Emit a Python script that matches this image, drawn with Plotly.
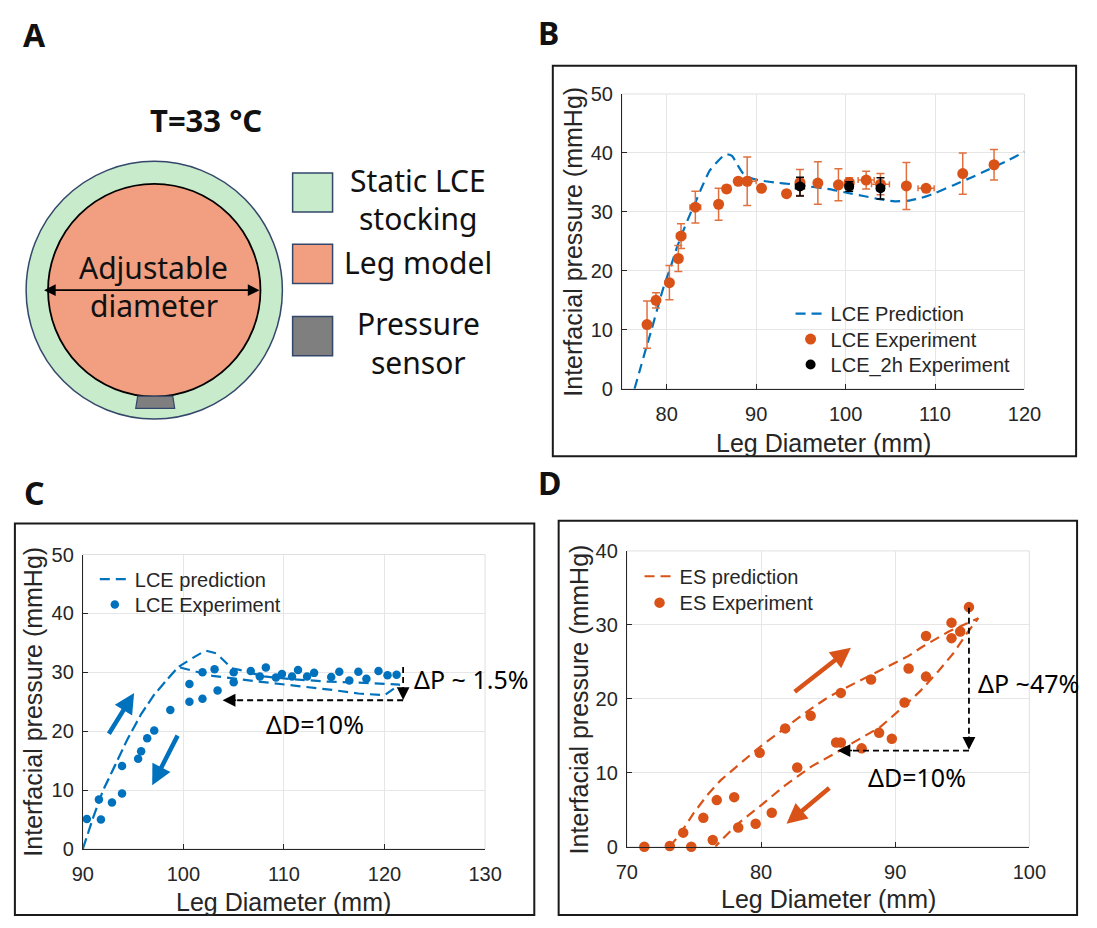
import plotly.graph_objects as go

W, H = 1097, 928
BLUE = "#0072BD"
ORANGE = "#D95319"
AXFONT = "Liberation Sans"
TXFONT = "Noto Sans"

# ---------------- Panel B: LCE stocking, static test ----------------
b_pred_d = [76.4, 77.0, 77.6, 78.3, 78.9, 79.7, 80.4, 81.1, 81.8, 82.5, 83.2, 83.9,
            84.8, 85.9, 86.6, 87.3, 87.9, 88.5, 89.2, 90.2, 92.0, 94.0, 96.0, 98.0,
            100.0, 102.0, 104.0, 105.5, 107.0, 108.5, 110.0, 112.0, 114.0, 116.0, 118.0, 120.0]
b_pred_p = [0.0, 3.2, 6.4, 10.0, 13.3, 17.5, 20.5, 23.8, 26.6, 29.2, 31.6, 34.1,
            37.0, 38.9, 39.8, 39.5, 38.0, 36.6, 35.9, 35.4, 35.0, 34.7, 34.3, 33.9,
            33.3, 32.7, 32.1, 31.8, 31.9, 32.4, 33.2, 34.5, 35.8, 37.2, 38.6, 40.2]

b_exp_d = [77.8, 78.8, 80.3, 81.3, 81.6, 83.2, 85.8, 86.7, 88.0, 89.0, 90.6,
           93.4, 94.9, 96.9, 99.2, 100.4, 102.3, 103.9, 106.8, 109.0, 113.1, 116.6]
b_exp_p = [10.9, 15.0, 18.0, 22.1, 25.9, 30.8, 31.3, 33.9, 35.2, 35.2, 34.0,
           33.1, 35.0, 34.9, 34.6, 35.0, 35.4, 34.7, 34.4, 34.0, 36.5, 38.0]
b_exp_ep = [4.0, 1.3, 2.9, 2.2, 2.1, 2.7, 2.7, 0.6, 0.5, 4.1, 0.4,
            0.3, 2.2, 3.6, 2.7, 0.8, 1.5, 1.8, 4.0, 0.5, 3.5, 2.6]
b_exp_ed = [0.0, 0.0, 0.0, 0.3, 0.5, 0.6, 0.0, 0.4, 0.0, 1.0, 0.0,
            0.0, 0.0, 0.0, 0.0, 0.5, 0.9, 1.0, 0.0, 0.9, 0.0, 0.0]

b_2h_d = [94.9, 100.4, 103.9]
b_2h_p = [34.3, 34.3, 34.0]
b_2h_ep = [1.6, 0.8, 1.8]
b_2h_ed = [0.5, 0.4, 0.4]

# ---------------- Panel C: LCE loading / unloading ----------------
c_pred_d = [90.0, 91.0, 92.0, 93.1, 94.4, 95.8, 97.1, 98.5, 99.5, 100.8, 102.2, 103.3,
            104.8, 105.6, 108.0, 111.0, 114.5, 118.0, 121.5,
            120.0, 117.4, 114.8, 111.0, 107.1, 102.9, 100.6, 99.5,
            98.5, 97.1, 95.8, 94.4, 93.1, 92.0, 91.0, 90.0]
c_pred_p = [0.0, 5.2, 9.9, 13.8, 18.5, 22.9, 26.2, 29.0, 30.9, 32.3, 33.7, 33.2,
            30.7, 30.4, 29.3, 28.8, 28.4, 28.2, 27.9,
            26.1, 26.4, 27.0, 27.7, 28.5, 29.4, 30.4, 30.9,
            29.0, 26.2, 22.9, 18.5, 13.8, 9.9, 5.2, 0.0]

c_exp_d = [90.4, 91.6, 91.8, 92.9, 93.9, 93.9, 95.5, 95.8, 96.4, 97.1, 98.7,
           100.6, 100.6, 101.9, 101.9, 103.1, 103.4, 105.0, 105.0, 106.7, 107.6,
           108.2, 109.2, 109.8, 110.8, 111.4, 112.3, 113.0, 114.7, 115.5, 116.5,
           117.4, 118.2, 119.4, 120.3, 121.2]
c_exp_p = [5.1, 8.4, 5.0, 7.9, 14.1, 9.4, 15.3, 16.6, 18.8, 20.1, 23.6,
           28.0, 25.0, 30.0, 25.5, 30.5, 26.9, 30.0, 28.3, 30.2, 29.3,
           30.8, 29.1, 29.7, 29.3, 30.4, 29.3, 29.9, 29.2, 30.1, 28.6,
           30.1, 28.9, 30.2, 29.5, 29.6]

# ---------------- Panel D: ES loading / unloading ----------------
d_pred_d = [73.2, 74.0, 75.0, 76.0, 77.0, 78.0, 79.0, 80.0, 81.0, 82.0, 83.0, 84.0,
            85.0, 86.0, 87.0, 88.0, 89.0, 90.0, 91.0, 92.0, 93.0, 94.0, 95.0, 96.2,
            95.4, 94.4, 93.2, 91.9, 90.6, 88.9, 86.8, 85.6, 83.8, 81.8, 80.0, 78.2, 77.0, 76.6]
d_pred_p = [0.0, 1.8, 4.6, 7.0, 9.0, 10.6, 12.1, 13.6, 15.0, 16.4, 17.7, 19.0,
            20.2, 21.2, 22.1, 23.0, 23.9, 24.8, 25.8, 27.0, 28.1, 29.1, 29.9, 30.9,
            29.0, 26.3, 23.7, 21.1, 18.9, 16.2, 14.0, 12.7, 10.9, 8.3, 5.6, 3.0, 0.8, 0.0]

d_exp_d = [71.3, 73.2, 74.2, 74.8, 75.7, 76.4, 76.7, 78.0, 78.3, 79.6, 79.9, 80.8,
           81.8, 82.7, 83.7, 85.6, 85.95, 85.95, 87.5, 88.2, 88.8, 89.75, 90.7, 91.0,
           92.3, 92.3, 94.2, 94.2, 94.85, 95.5]
d_exp_p = [0.0, 0.1, 1.9, 0.0, 3.9, 0.9, 6.3, 6.7, 2.6, 3.1, 12.7, 4.6,
           16.0, 10.7, 17.7, 14.1, 14.1, 20.8, 13.3, 22.6, 15.4, 14.6, 19.5, 24.1,
           23.0, 28.5, 28.2, 30.3, 29.1, 32.4]

# annotation values
c_dp_x, c_dp_top, c_dp_bot = 121.85, 30.9, 25.3
c_dd_y, c_dd_left = 25.25, 103.9
d_dp_x, d_dp_top, d_dp_bot = 95.5, 32.3, 13.1
d_dd_y, d_dd_left = 13.0, 85.7


def px(x):
    return x / W


def py(y):
    return 1 - y / H


fig = go.Figure()

# Panel B traces
fig.add_trace(go.Scatter(x=b_pred_d, y=b_pred_p, mode="lines", name="LCE Prediction",
                         line=dict(color=BLUE, width=2.2, dash="10px,6px", shape="spline", smoothing=0.5),
                         xaxis="x", yaxis="y", legend="legend", cliponaxis=False))
fig.add_trace(go.Scatter(x=b_exp_d, y=b_exp_p, mode="markers", name="LCE Experiment",
                         marker=dict(color=ORANGE, size=11),
                         error_y=dict(type="data", array=b_exp_ep, color="#E0703E", thickness=1.5, width=4),
                         error_x=dict(type="data", array=b_exp_ed, color="#E0703E", thickness=1.5, width=3),
                         xaxis="x", yaxis="y", legend="legend4", cliponaxis=False))
fig.add_trace(go.Scatter(x=b_2h_d, y=b_2h_p, mode="markers", name="LCE_2h Experiment",
                         marker=dict(color="black", size=10),
                         error_y=dict(type="data", array=b_2h_ep, color="black", thickness=1.5, width=4),
                         error_x=dict(type="data", array=b_2h_ed, color="black", thickness=1.5, width=3),
                         xaxis="x", yaxis="y", legend="legend5", cliponaxis=False))

# Panel C traces
fig.add_trace(go.Scatter(x=c_pred_d, y=c_pred_p, mode="lines", name="LCE prediction",
                         line=dict(color=BLUE, width=2.2, dash="10px,6px"),
                         xaxis="x2", yaxis="y2", legend="legend2", cliponaxis=False))
fig.add_trace(go.Scatter(x=c_exp_d, y=c_exp_p, mode="markers", name="LCE Experiment",
                         marker=dict(color=BLUE, size=8.5),
                         xaxis="x2", yaxis="y2", legend="legend6", cliponaxis=False))

# Panel D traces
fig.add_trace(go.Scatter(x=d_pred_d, y=d_pred_p, mode="lines", name="ES prediction",
                         line=dict(color=ORANGE, width=2.2, dash="10px,6px"),
                         xaxis="x3", yaxis="y3", legend="legend3", cliponaxis=False))
fig.add_trace(go.Scatter(x=d_exp_d, y=d_exp_p, mode="markers", name="ES Experiment",
                         marker=dict(color=ORANGE, size=10.5),
                         xaxis="x3", yaxis="y3", legend="legend7", cliponaxis=False))

# dashed black guide lines (ΔP, ΔD)
guide = dict(color="black", width=1.8, dash="6px,4px")
fig.add_trace(go.Scatter(x=[c_dp_x, c_dp_x], y=[c_dp_top, c_dp_bot + 1.0], mode="lines",
                         line=guide, showlegend=False, xaxis="x2", yaxis="y2", cliponaxis=False))
fig.add_trace(go.Scatter(x=[c_dp_x, c_dd_left + 0.8], y=[c_dd_y, c_dd_y], mode="lines",
                         line=guide, showlegend=False, xaxis="x2", yaxis="y2", cliponaxis=False))
fig.add_trace(go.Scatter(x=[d_dp_x, d_dp_x], y=[d_dp_top, d_dp_bot + 1.0], mode="lines",
                         line=guide, showlegend=False, xaxis="x3", yaxis="y3", cliponaxis=False))
fig.add_trace(go.Scatter(x=[d_dp_x, d_dd_left + 0.7], y=[d_dd_y, d_dd_y], mode="lines",
                         line=guide, showlegend=False, xaxis="x3", yaxis="y3", cliponaxis=False))


def axis(dom, rng, dtick, anchor, vertical=False):
    a = dict(domain=dom, range=rng, dtick=dtick, anchor=anchor,
             showgrid=True, gridcolor="#E6E6E6", gridwidth=1,
             showline=True, linecolor="#262626", linewidth=1,
             ticks="inside", ticklen=5, tickcolor="#262626",
             tickfont=dict(family=AXFONT, size=20, color="#262626"),
             zeroline=False, fixedrange=True)
    a["ticklabelstandoff"] = 4 if vertical else 7
    return a


layout = dict(
    width=W, height=H, margin=dict(l=0, r=0, t=0, b=0),
    paper_bgcolor="white", plot_bgcolor="white",
    xaxis=axis([px(627), px(1040)], [75, 120], 10, "y"),
    yaxis=axis([py(387), py(85)], [0, 50], 10, "x", True),
    xaxis2=axis([px(73.7), px(486.5)], [90, 130], 10, "y2"),
    yaxis2=axis([py(858.3), py(556.7)], [0, 50], 10, "x2", True),
    xaxis3=axis([px(632), px(1045)], [70, 100], 10, "y3"),
    yaxis3=axis([py(856), py(553)], [0, 40], 10, "x3", True),
)
# one legend box per entry so each row sits at its own height
legfont = dict(family=AXFONT, size=20, color="#262626")
legend_rows = {"legend": (800, 310), "legend4": (800, 336), "legend5": (800, 362),
               "legend2": (86, 582), "legend6": (86, 608),
               "legend3": (645, 579), "legend7": (645, 606)}
for key, (lx, ly) in legend_rows.items():
    layout[key] = dict(x=px(lx), y=py(ly), xanchor="left", yanchor="middle", font=legfont,
                       bgcolor="rgba(0,0,0,0)", itemwidth=30)
fig.update_layout(**layout)

shapes = []
# light box around each plot area
for xr, yr in (("x", "y"), ("x2", "y2"), ("x3", "y3")):
    shapes.append(dict(type="rect", xref=xr + " domain", yref=yr + " domain", x0=0, x1=1, y0=0, y1=1,
                       line=dict(color="#E0E0E0", width=1), layer="below"))
# panel frames
for x0, y0, x1, y1 in ((556, 56, 1093, 456), (4, 525, 537, 926), (562, 522, 1094, 926)):
    shapes.append(dict(type="rect", xref="paper", yref="paper", x0=px(x0), x1=px(x1), y0=py(y1), y1=py(y0),
                       line=dict(color="#1A1A1A", width=2)))

# Panel A schematic
EDGE = "#33476B"
shapes.append(dict(type="circle", xref="paper", yref="paper", x0=px(15.5), x1=px(278.5), y0=py(418), y1=py(154),
                   fillcolor="#C8EBCB", line=dict(color=EDGE, width=1.5)))
shapes.append(dict(type="circle", xref="paper", yref="paper", x0=px(38), x1=px(256), y0=py(395), y1=py(177),
                   fillcolor="#F29E80", line=dict(color="black", width=1.8)))
sensor = [(130, 394.5), (166, 394.5), (168, 407), (128, 407)]
path = "M " + " L ".join(f"{px(a):.5f},{py(b):.5f}" for a, b in sensor) + " Z"
shapes.append(dict(type="path", xref="paper", yref="paper", path=path,
                   fillcolor="#7F7F7F", line=dict(color=EDGE, width=1.2)))
for (y0, y1), col in zip(((166, 206), (239, 279), (313, 353)), ("#C8EBCB", "#F29E80", "#7F7F7F")):
    shapes.append(dict(type="rect", xref="paper", yref="paper", x0=px(289), x1=px(330), y0=py(y1), y1=py(y0),
                       fillcolor=col, line=dict(color=EDGE, width=1.5)))
fig.update_layout(shapes=shapes)

ann = []


def txt(x, y, s, size=28, bold=False, xanchor="center", font=TXFONT, color="#111111"):
    ann.append(dict(x=px(x), y=py(y), xref="paper", yref="paper", text=f"<b>{s}</b>" if bold else s,
                    showarrow=False, xanchor=xanchor, yanchor="middle",
                    font=dict(family=font, size=size, color=color)))


# panel letters
txt(24, 24, "A", 32, True)
txt(552, 22, "B", 32, True)
txt(24, 493, "C", 32, True)
txt(553, 483, "D", 32, True)

# Panel A texts
txt(200, 112, "T=33 °C", 31, True)
txt(146, 263, "Adjustable", 30)
txt(147, 302, "diameter", 30)
txt(418, 174, "Static LCE", 30)
txt(418, 213, "stocking", 30)
txt(418, 258, "Leg model", 30)
txt(418, 320, "Pressure", 30)
txt(418, 360, "sensor", 30)
ann.append(dict(x=px(255), y=py(286), xref="paper", yref="paper", ax=-(255 - 38), ay=0,
                axref="pixel", ayref="pixel", text="", showarrow=True, arrowside="end+start",
                arrowhead=2, arrowsize=1.3, arrowwidth=1.8, arrowcolor="black", standoff=0, startstandoff=0))

# axis titles
for xc, yc in ((833.5, 442), (280, 913), (838.5, 910)):
    txt(xc, yc, "Leg Diameter (mm)", 25, font=AXFONT, color="#262626")
for xc, yc in ((577, 236), (23, 707), (583, 705)):
    ann.append(dict(x=px(xc), y=py(yc), xref="paper", yref="paper", text="Interfacial pressure (mmHg)",
                    textangle=-90, showarrow=False, xanchor="center", yanchor="middle",
                    font=dict(family=AXFONT, size=25, color="#262626")))


def arrow(xr, yr, x0, y0, x1, y1, color, width, size):
    ann.append(dict(x=x1, y=y1, ax=x0, ay=y0, xref=xr, yref=yr, axref=xr, ayref=yr, text="",
                    showarrow=True, arrowhead=2, arrowsize=size, arrowwidth=width, arrowcolor=color,
                    standoff=0))


# direction arrows
arrow("x2", "y2", 92.5, 19.3, 95.1, 26.5, BLUE, 4.5, 0.9)
arrow("x2", "y2", 99.5, 19.5, 96.9, 10.8, BLUE, 4.5, 0.9)
arrow("x3", "y3", 82.4, 20.8, 86.7, 26.9, ORANGE, 4.5, 0.9)
arrow("x3", "y3", 85.2, 8.1, 81.9, 3.1, ORANGE, 4.5, 0.9)
# heads of the dashed guides
arrow("x2", "y2", c_dp_x, c_dp_bot + 1.6, c_dp_x, c_dp_bot, "black", 1.6, 1.6)
arrow("x2", "y2", c_dd_left + 1.5, c_dd_y, c_dd_left, c_dd_y, "black", 1.6, 1.6)
arrow("x3", "y3", d_dp_x, d_dp_bot + 2.0, d_dp_x, d_dp_bot, "black", 1.6, 1.6)
arrow("x3", "y3", d_dd_left + 1.2, d_dd_y, d_dd_left, d_dd_y, "black", 1.6, 1.6)

# guide labels
for xr, yr, x, y, s, xa in (("x2", "y2", 122.7, 28.9, "ΔP ~ 1.5%", "left"),
                            ("x2", "y2", 113.1, 21.3, "ΔD=10%", "center"),
                            ("x3", "y3", 96.0, 22.2, "ΔP ~47%", "left"),
                            ("x3", "y3", 91.6, 9.4, "ΔD=10%", "center")):
    ann.append(dict(x=x, y=y, xref=xr, yref=yr, text=s, showarrow=False, xanchor=xa, yanchor="middle",
                    font=dict(family=TXFONT, size=25, color="black")))

fig.update_layout(annotations=ann)
fig.write_html("out.html")
